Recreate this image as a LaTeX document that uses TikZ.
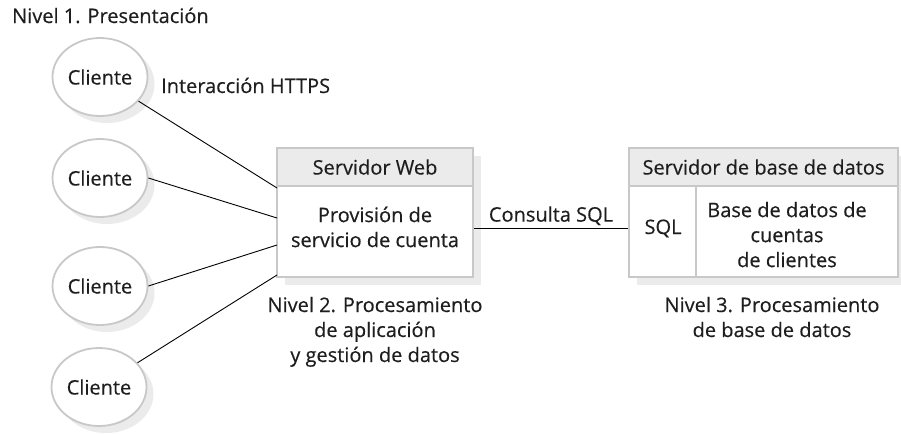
\documentclass[tikz,border=0pt]{standalone}
\usepackage{fontspec}
\setmainfont{Open Sans}[FakeBold=0.4]
\usetikzlibrary{shapes.geometric,shadows}

\definecolor{borde}{HTML}{C8C8C8}
\definecolor{relleno}{HTML}{EBEBEB}
\definecolor{tinta}{HTML}{1E1E1E}

\begin{document}
\begin{tikzpicture}[x=1pt,y=-1pt,
        font=\fontsize{20}{25}\selectfont,
        texto/.style={inner sep=0pt,align=center,text=tinta},
        conector/.style={black,line width=0.9pt},
        cliente/.style={ellipse,draw=borde,line width=1.8pt,fill=white,text=tinta,
            minimum width=95pt,minimum height=78pt,inner sep=0pt,
            drop shadow={shadow xshift=7pt,shadow yshift=-7pt,fill=relleno,opacity=1}},
        caja/.style={draw=borde,line width=1.8pt,fill=white,inner sep=0pt,text=tinta},
        cabecera/.style={caja,fill=relleno,minimum height=38pt}]

        \useasboundingbox (0,0) rectangle (901,434);

        % =========================================================
        % NIVEL 1: PRESENTACION
        % =========================================================

        \node[texto,anchor=base west] (nivel1) at (12,23) {Nivel 1. Presentación};

        % Clientes
        \node[cliente] (c1) at (100,77) {Cliente};
        \node[cliente] (c2) at (100,178) {Cliente};
        \node[cliente] (c3) at (100,286) {Cliente};
        \node[cliente] (c4) at (99,387) {Cliente};

        \node[texto,anchor=base west] (https) at (161,93) {Interacción HTTPS};

        % ---------------------------------------------------------
        % Servidor Web
        % ---------------------------------------------------------

        % Sombra
        \fill[relleno] (285,156) rectangle (481,285);

        \node[caja,minimum width=196pt,minimum height=91pt] (web) at (375,231.5) {};
        \node[cabecera,minimum width=196pt] (webcab) at (375,167) {Servidor Web};
        \node[texto] (provision) at (375,227) {Provisión de\\servicio de cuenta};

        % Puntos de llegada en el lado izquierdo
        \coordinate (w1) at (277,188);
        \coordinate (w2) at (277,218);
        \coordinate (w3) at (277,245);
        \coordinate (w4) at (277,275);

        \draw[conector] (c1) -- (w1);
        \draw[conector] (c2.east) -- (w2);
        \draw[conector] (c3.east) -- (w3);
        \draw[conector] (c4) -- (w4);

        % ---------------------------------------------------------
        % Servidor de base de datos
        % ---------------------------------------------------------

        % Sombra
        \fill[relleno] (637,156) rectangle (910,285);

        \node[caja,minimum width=269pt,minimum height=91pt] (bd) at (763.5,231.5) {};
        \node[cabecera,minimum width=269pt] (bdcab) at (763.5,167) {Servidor de base de datos};

        % Separacion SQL | datos
        \draw[draw=borde,line width=1.8pt] (696,186) -- (696,277);

        \node[texto,anchor=base] (sql) at (663,234) {SQL};
        \node[texto] (bdtexto) at (787,234.6) {Base de datos de\\cuentas\\de clientes};

        % Consulta entre servidores
        \draw[conector] (web.east |- sql) -- (bd.west |- sql)
        node[texto,midway,above=3pt] (consulta) {Consulta SQL};

        % =========================================================
        % NIVELES 2 Y 3
        % =========================================================

        \node[texto] (nivel2) at (375,331.8) {Nivel 2. Procesamiento\\de aplicación\\y gestión de datos};
        \node[texto] (nivel3) at (772,317) {Nivel 3. Procesamiento\\de base de datos};

\end{tikzpicture}
\end{document}
